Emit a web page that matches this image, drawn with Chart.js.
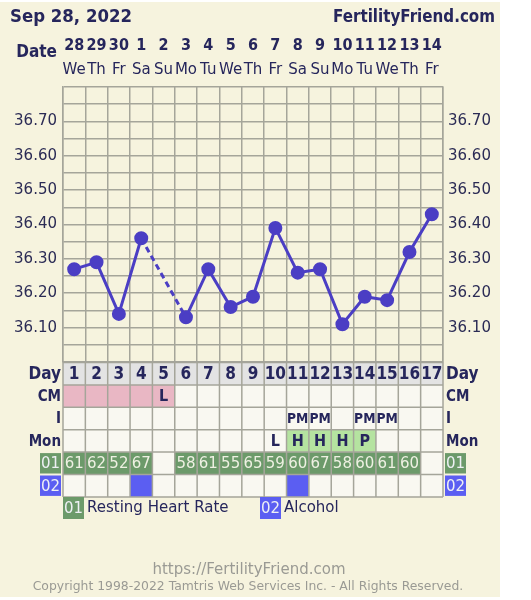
<!DOCTYPE html>
<html lang="en">
<head>
<meta charset="UTF-8">
<title>Fertility Chart</title>
<script src="https://cdn.jsdelivr.net/npm/chart.js"></script>
<style>
  html, body { margin: 0; padding: 0; background: #fff; }
  #wrap { position: relative; width: 531px; height: 600px; }
</style>
</head>
<body>
<div id="wrap"><canvas id="chart"></canvas></div>
<script>
// chart data
const days = ['1','2','3','4','5','6','7','8','9','10','11','12','13','14','15','16','17'];
const dates = ['28','29','30','1','2','3','4','5','6','7','8','9','10','11','12','13','14'];
const weekdays = ['We','Th','Fr','Sa','Su','Mo','Tu','We','Th','Fr','Sa','Su','Mo','Tu','We','Th','Fr'];
const temps = [36.27, 36.29, 36.14, 36.36, null, 36.13, 36.27, 36.16, 36.19, 36.39, 36.26, 36.27, 36.11, 36.19, 36.18, 36.32, 36.43];
const cmText = ['', '', '', '', 'L', '', '', '', '', '', '', '', '', '', '', '', ''];
const menses = [1, 1, 1, 1, 1, 0, 0, 0, 0, 0, 0, 0, 0, 0, 0, 0, 0];
const intercourse = ['', '', '', '', '', '', '', '', '', '', 'PM', 'PM', '', 'PM', 'PM', '', ''];
const monitor = ['', '', '', '', '', '', '', '', '', 'L', 'H', 'H', 'H', 'P', '', '', ''];
const heartRate = [61, 62, 52, 67, null, 58, 61, 55, 65, 59, 60, 67, 58, 60, 61, 60, null];
const alcohol = [0, 0, 0, 1, 0, 0, 0, 0, 0, 0, 1, 0, 0, 0, 0, 0, 0];

const NAVY = '#26265c';
const GRID = '#a5a59a';
const CREAM = '#f6f3de';
const CELL = '#f9f8f1';
const PINK = '#e9b7c4';
const DAYBG = '#e3e3e3';
const GREEN = '#6c9a6a';
const LGREEN = '#b5e3a0';
const BLUE = '#5b5ef2';

const rowTop = 362.5, rowH = 22.4;

const tablePlugin = {
  id: 'table',
  beforeDraw(chart) {
    const c = chart.ctx;
    c.save();
    c.fillStyle = CREAM;
    c.fillRect(0, 2, 500, 595);
    c.restore();
  },
  afterDraw(chart) {
    const c = chart.ctx;
    const x = chart.scales.x;
    const half = (x.getPixelForValue(1) - x.getPixelForValue(0)) / 2;
    const left = x.getPixelForValue(0) - half;
    const right = x.getPixelForValue(days.length - 1) + half;
    const rowY = r => rowTop + r * rowH;
    c.save();

    // header
    c.fillStyle = NAVY;
    c.textBaseline = 'middle';
    c.font = 'bold 17px "DejaVu Sans"';
    c.textAlign = 'left';
    c.fillText('Sep 28, 2022', 10, 18, 122);
    c.textAlign = 'right';
    c.fillText('FertilityFriend.com', 495, 18, 162);
    c.textAlign = 'right';
    c.font = 'bold 17px "DejaVu Sans Condensed", "DejaVu Sans"';
    c.fillText('Date', 57, 53);
    c.textAlign = 'center';
    days.forEach((d, i) => {
      const cx = x.getPixelForValue(i);
      c.font = 'bold 16px "DejaVu Sans Condensed", "DejaVu Sans"';
      c.fillText(dates[i], cx, 46);
      c.font = '15px "DejaVu Sans"';
      c.fillText(weekdays[i], cx, 70);
    });

    // cell fills
    days.forEach((d, i) => {
      const x0 = x.getPixelForValue(i) - half;
      const w = half * 2;
      const fills = [
        DAYBG,
        menses[i] ? PINK : CELL,
        CELL,
        (monitor[i] === 'H' || monitor[i] === 'P') ? LGREEN : CELL,
        heartRate[i] != null ? GREEN : CELL,
        alcohol[i] ? BLUE : CELL
      ];
      fills.forEach((f, r) => {
        c.fillStyle = f;
        c.fillRect(x0, rowY(r), w, rowH);
      });
    });

    // grid lines of table
    c.strokeStyle = GRID;
    c.lineWidth = 1.5;
    c.beginPath();
    for (let r = 0; r <= 6; r++) {
      c.moveTo(left, rowY(r));
      c.lineTo(right, rowY(r));
    }
    for (let i = 0; i <= days.length; i++) {
      const gx = left + i * half * 2;
      c.moveTo(gx, rowY(0));
      c.lineTo(gx, rowY(6));
    }
    c.stroke();

    // cell texts
    c.textAlign = 'center';
    c.textBaseline = 'middle';
    days.forEach((d, i) => {
      const cx = x.getPixelForValue(i);
      c.fillStyle = NAVY;
      c.font = 'bold 17px "DejaVu Sans Condensed", "DejaVu Sans"';
      c.fillText(d, cx, rowY(0) + rowH / 2 + 1);
      c.font = 'bold 16px "DejaVu Sans Condensed", "DejaVu Sans"';
      if (cmText[i]) c.fillText(cmText[i], cx, rowY(1) + rowH / 2 + 1);
      if (monitor[i]) c.fillText(monitor[i], cx, rowY(3) + rowH / 2 + 1);
      c.font = 'bold 14px "DejaVu Sans Condensed", "DejaVu Sans"';
      if (intercourse[i]) c.fillText(intercourse[i], cx, rowY(2) + rowH / 2 + 1, half * 2 - 1);
      if (heartRate[i] != null) {
        c.fillStyle = '#eef0e2';
        c.font = '15px "DejaVu Sans"';
        c.fillText(String(heartRate[i]), cx, rowY(4) + rowH / 2 + 1);
      }
    });

    // row labels both sides
    const labels = ['Day', 'CM', 'I', 'Mon'];
    c.fillStyle = NAVY;
    labels.forEach((t, r) => {
      c.font = (r === 0 ? 'bold 17px' : 'bold 15px') + ' "DejaVu Sans Condensed", "DejaVu Sans"';
      c.textAlign = 'right';
      c.fillText(t, left - 2, rowY(r) + rowH / 2 + 1);
      c.textAlign = 'left';
      c.fillText(t, right + 3, rowY(r) + rowH / 2 + 1);
    });
    const tag = (txt, bg, bx, by, w, h) => {
      c.fillStyle = bg;
      c.fillRect(bx, by, w, h);
      c.fillStyle = '#eef0f4';
      c.font = '15px "DejaVu Sans"';
      c.textAlign = 'center';
      c.fillText(txt, bx + w / 2, by + h / 2 + 1);
    };
    tag('01', GREEN, 40, rowY(4) + 1, 21, rowH - 2);
    tag('01', GREEN, right + 2, rowY(4) + 1, 21, rowH - 2);
    tag('02', BLUE, 40, rowY(5) + 1, 21, rowH - 2);
    tag('02', BLUE, right + 2, rowY(5) + 1, 21, rowH - 2);

    // legend
    tag('01', GREEN, left, 497, 21, 22);
    tag('02', BLUE, 260, 497, 21, 22);
    c.fillStyle = NAVY;
    c.font = '15px "DejaVu Sans"';
    c.textAlign = 'left';
    c.fillText('Resting Heart Rate', left + 24, 508);
    c.fillText('Alcohol', 284, 508);

    // footer
    c.fillStyle = '#9a9a94';
    c.textAlign = 'center';
    c.font = '15px "DejaVu Sans"';
    c.fillText('https://FertilityFriend.com', 249, 570);
    c.font = '12.4px "DejaVu Sans"';
    c.fillText('Copyright 1998-2022 Tamtris Web Services Inc. - All Rights Reserved.', 248, 587);
    c.restore();
  }
};

const tickLabel = v => {
  const h = Math.round(v * 100);
  if (h % 10 !== 0 || h === 3600 || h === 3680) return '';
  return (h / 100).toFixed(2);
};

const yTicks = {
  stepSize: 0.05,
  autoSkip: false,
  color: '#2b2b55',
  font: { family: '"DejaVu Sans"', size: 15 },
  callback: tickLabel
};

new Chart(document.getElementById('chart'), {
  type: 'line',
  data: {
    labels: days,
    datasets: [{
      data: temps,
      borderColor: '#4b3ec4',
      backgroundColor: '#4b3ec4',
      borderWidth: 3,
      pointRadius: 5.5,
      pointHoverRadius: 5.5,
      tension: 0,
      spanGaps: true,
      segment: {
        // dashed across a missing reading
        borderDash: ctx => (temps[ctx.p0DataIndex] == null ? [6, 4] : undefined)
      }
    }]
  },
  options: {
    responsive: true,
    maintainAspectRatio: false,
    animation: false,
    layout: { padding: { top: 87, bottom: 238, left: 0, right: 0 } },
    plugins: { legend: { display: false }, tooltip: { enabled: false } },
    scales: {
      x: {
        offset: true,
        grid: { color: GRID, lineWidth: 1.5, drawTicks: false, offset: true },
        border: { color: GRID, width: 1.5 },
        ticks: { display: false },
        afterFit(a) { a.height = 0; }
      },
      y: {
        min: 36.0,
        max: 36.8,
        ticks: Object.assign({ padding: 6 }, yTicks),
        grid: { color: GRID, lineWidth: 1.5, drawTicks: false },
        border: { color: GRID, width: 1.5 },
        afterFit(a) { a.width = 63; }
      },
      y2: {
        position: 'right',
        min: 36.0,
        max: 36.8,
        ticks: Object.assign({ padding: 5 }, yTicks),
        grid: { display: false, drawTicks: false },
        border: { color: GRID, width: 1.5 },
        afterFit(a) { a.width = 88; }
      }
    }
  },
  plugins: [tablePlugin]
});
</script>
</body>
</html>
